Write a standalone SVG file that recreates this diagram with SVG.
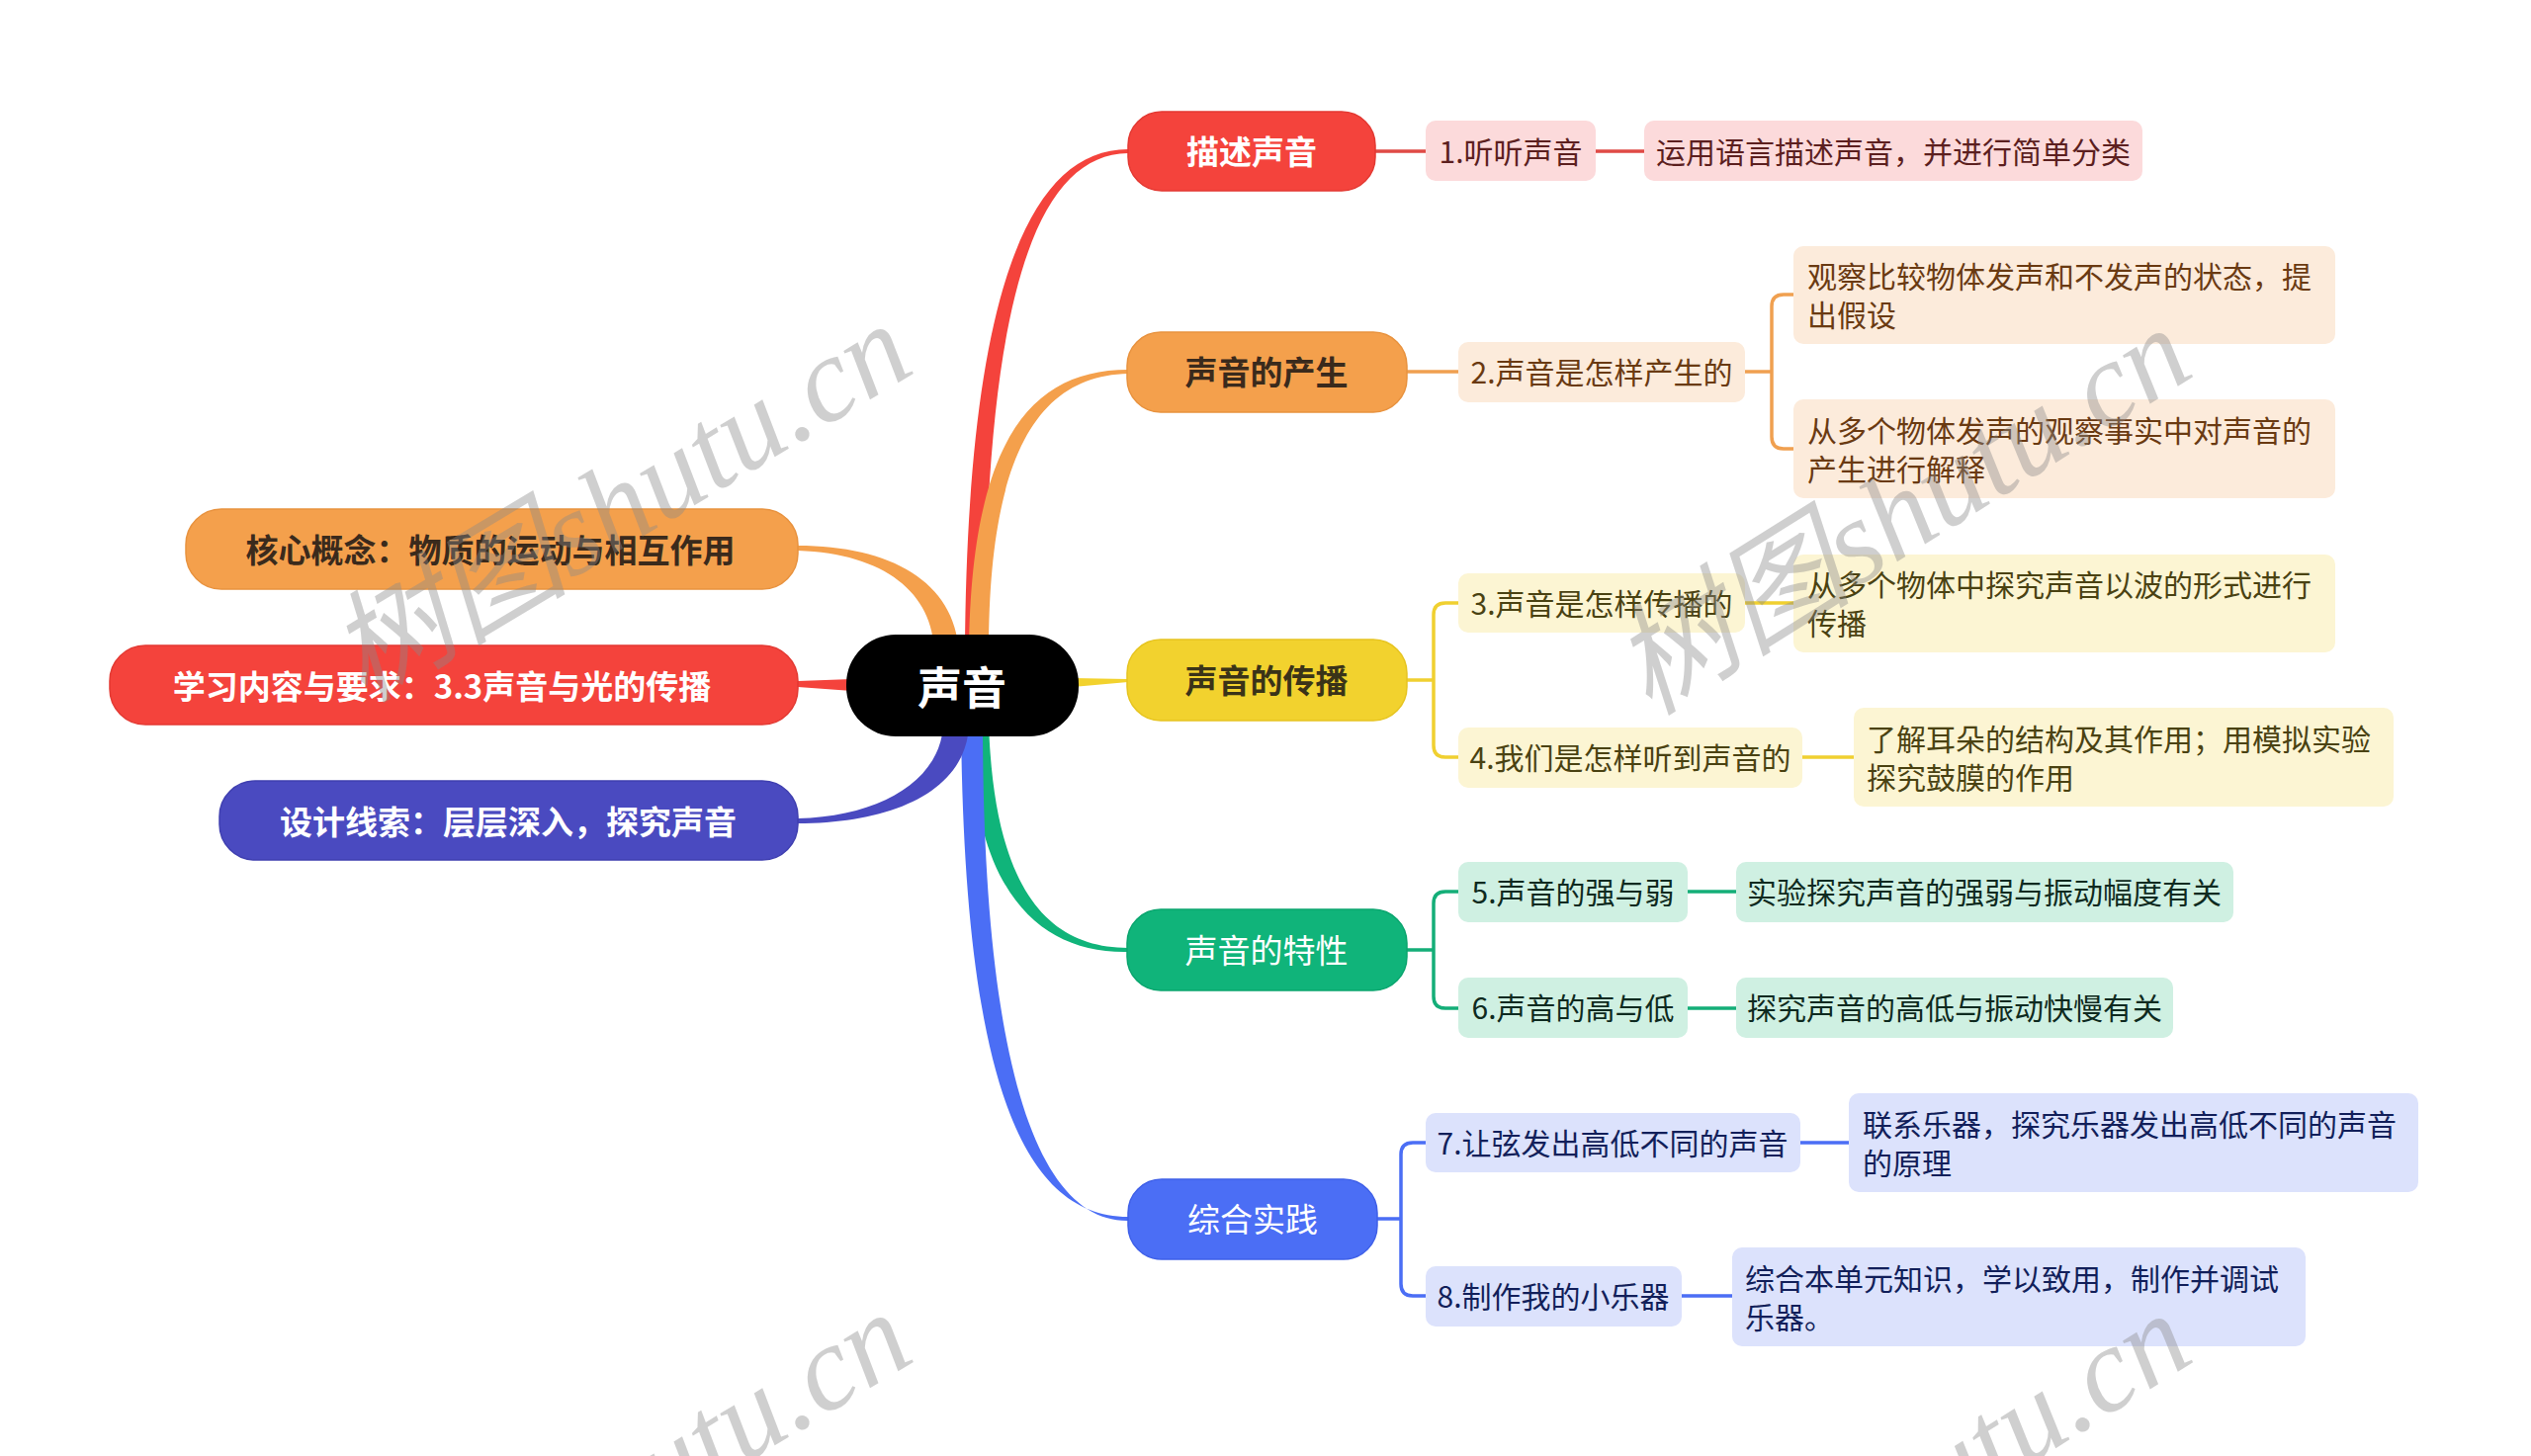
<svg xmlns="http://www.w3.org/2000/svg" width="2560" height="1473" viewBox="0 0 2560 1473">
<style>
text{font-family:"Noto Sans CJK SC","Liberation Sans",sans-serif;dominant-baseline:central}
.big{font-size:33px;text-anchor:middle}
.b{font-weight:bold}
.lf{font-size:30px}
.c{text-anchor:middle}
.ln{fill:none;stroke-width:3.5}
.wm{font-family:"Liberation Serif","Noto Sans CJK SC",serif;font-style:italic;font-size:122px;fill:#8a8a8a;opacity:0.4;dominant-baseline:alphabetic}
</style>
<rect width="2560" height="1473" fill="#fff"/>
<g id="connectors">
  <path d="M976 660 C978 330 1030 151 1141 151 L1141 155 C1040 156 996 330 996 660 Z" fill="#F4433C"/>
  <path d="M980 660 C982 450 1040 374 1141 374 L1141 378 C1050 380 1000 460 1000 660 Z" fill="#F4A04C"/>
  <path d="M1085 686 L1141 687 L1141 690 L1085 695 Z" fill="#F2D22E"/>
  <path d="M1000 730 C1005 900 1060 959 1141 959 L1141 963 C1050 965 982 900 982 730 Z" fill="#10B47A"/>
  <path d="M972 730 C975 1080 1030 1231 1141 1231 L1141 1235 C1050 1236 994 1080 994 730 Z" fill="#4B6EF5"/>
  <path d="M970 660 C966 588 900 552 807 552 L807 557 C895 560 944 600 945 660 Z" fill="#F4A04C"/>
  <path d="M862 687 L807 689 L807 695 L862 699 Z" fill="#F4433C"/>
  <path d="M980 735 C976 802 900 833 807 833 L807 828 C890 826 950 790 954 735 Z" fill="#4A4AC0"/>
  <path class="ln" stroke="#E04A45" d="M1391 153 H1442 M1614 153 H1663"/>
  <path class="ln" stroke="#F0A050" d="M1423 376 H1475 M1765 376 H1792 V310 Q1792 298 1804 298 H1814 M1792 376 V442 Q1792 454 1804 454 H1814"/>
  <path class="ln" stroke="#F0D030" d="M1423 688 H1450 V622 Q1450 610 1462 610 H1475 M1450 688 V754 Q1450 766 1462 766 H1475 M1765 610 H1814 M1823 766 H1875"/>
  <path class="ln" stroke="#14AE78" d="M1423 961 H1450 V914 Q1450 902 1462 902 H1475 M1450 961 V1008 Q1450 1020 1462 1020 H1475 M1707 902 H1756 M1707 1020 H1756"/>
  <path class="ln" stroke="#4B6EF5" d="M1393 1233 H1417 V1168 Q1417 1156 1429 1156 H1442 M1417 1233 V1299 Q1417 1311 1429 1311 H1442 M1821 1156 H1870 M1701 1311 H1752"/>
</g>

<g id="center">
  <rect x="856" y="642" width="235" height="103" rx="50" fill="#000"/>
  <text x="973" y="693" class="b c" font-size="45" fill="#fff">声音</text>
</g>

<g id="left-core">
  <rect x="188" y="515" width="619" height="81" rx="36" fill="#F4A04C" stroke="#E8923E" stroke-width="1.5"/>
  <text x="496" y="555" class="big b" fill="#3A2A1C">核心概念：物质的运动与相互作用</text>
</g>
<g id="left-learn">
  <rect x="111" y="653" width="696" height="80" rx="36" fill="#F4433C" stroke="#E33932" stroke-width="1.5"/>
  <text x="447" y="693" class="big b" fill="#fff">学习内容与要求：3.3声音与光的传播</text>
</g>
<g id="left-design">
  <rect x="222" y="790" width="585" height="80" rx="36" fill="#4A4AC0" stroke="#3F3FB0" stroke-width="1.5"/>
  <text x="514" y="830" class="big b" fill="#fff">设计线索：层层深入，探究声音</text>
</g>

<g id="b1">
  <rect x="1141" y="113" width="250" height="80" rx="34" fill="#F4433C" stroke="#E33932" stroke-width="1.5"/>
  <text x="1266" y="152" class="big b" fill="#fff">描述声音</text>
</g>
<g id="n1">
  <rect x="1442" y="122" width="172" height="61" rx="10" fill="#FCDADB"/>
  <text x="1528" y="152" class="lf c" fill="#5C1F1F">1.听听声音</text>
</g>
<g id="n1a">
  <rect x="1663" y="122" width="504" height="61" rx="10" fill="#FCDADB"/>
  <text x="1915" y="152" class="lf c" fill="#5C1F1F">运用语言描述声音，并进行简单分类</text>
</g>

<g id="b2">
  <rect x="1140" y="336" width="283" height="81" rx="34" fill="#F4A04C" stroke="#E8923E" stroke-width="1.5"/>
  <text x="1281" y="375" class="big b" fill="#3A2A1C">声音的产生</text>
</g>
<g id="n2">
  <rect x="1475" y="346" width="290" height="61" rx="10" fill="#FCEBDB"/>
  <text x="1620" y="375" class="lf c" fill="#6A3A12">2.声音是怎样产生的</text>
</g>
<g id="n2a">
  <rect x="1814" y="249" width="548" height="99" rx="10" fill="#FCEBDB"/>
  <text x="1828" y="278" class="lf" fill="#6A3A12">观察比较物体发声和不发声的状态，提</text>
  <text x="1828" y="317" class="lf" fill="#6A3A12">出假设</text>
</g>
<g id="n2b">
  <rect x="1814" y="404" width="548" height="100" rx="10" fill="#FCEBDB"/>
  <text x="1828" y="434" class="lf" fill="#6A3A12">从多个物体发声的观察事实中对声音的</text>
  <text x="1828" y="473" class="lf" fill="#6A3A12">产生进行解释</text>
</g>

<g id="b3">
  <rect x="1140" y="647" width="283" height="82" rx="34" fill="#F2D22E" stroke="#E6C420" stroke-width="1.5"/>
  <text x="1281" y="687" class="big b" fill="#3A3318">声音的传播</text>
</g>
<g id="n3">
  <rect x="1475" y="580" width="290" height="60" rx="10" fill="#FCF5D3"/>
  <text x="1620" y="609" class="lf c" fill="#4A4212">3.声音是怎样传播的</text>
</g>
<g id="n3a">
  <rect x="1814" y="561" width="548" height="99" rx="10" fill="#FCF5D3"/>
  <text x="1828" y="590" class="lf" fill="#4A4212">从多个物体中探究声音以波的形式进行</text>
  <text x="1828" y="629" class="lf" fill="#4A4212">传播</text>
</g>
<g id="n4">
  <rect x="1475" y="736" width="348" height="61" rx="10" fill="#FCF5D3"/>
  <text x="1649" y="765" class="lf c" fill="#4A4212">4.我们是怎样听到声音的</text>
</g>
<g id="n4a">
  <rect x="1875" y="716" width="546" height="100" rx="10" fill="#FCF5D3"/>
  <text x="1888" y="746" class="lf" fill="#4A4212">了解耳朵的结构及其作用；用模拟实验</text>
  <text x="1888" y="785" class="lf" fill="#4A4212">探究鼓膜的作用</text>
</g>

<g id="b4">
  <rect x="1140" y="920" width="283" height="82" rx="34" fill="#10B47A" stroke="#0AA56E" stroke-width="1.5"/>
  <text x="1281" y="960" class="big" fill="#fff">声音的特性</text>
</g>
<g id="n5">
  <rect x="1475" y="872" width="232" height="61" rx="10" fill="#CFF0E2"/>
  <text x="1591" y="901" class="lf c" fill="#0E2A20">5.声音的强与弱</text>
</g>
<g id="n5a">
  <rect x="1756" y="872" width="503" height="61" rx="10" fill="#CFF0E2"/>
  <text x="2007" y="901" class="lf c" fill="#0E2A20">实验探究声音的强弱与振动幅度有关</text>
</g>
<g id="n6">
  <rect x="1475" y="989" width="232" height="61" rx="10" fill="#CFF0E2"/>
  <text x="1591" y="1018" class="lf c" fill="#0E2A20">6.声音的高与低</text>
</g>
<g id="n6a">
  <rect x="1756" y="989" width="442" height="61" rx="10" fill="#CFF0E2"/>
  <text x="1977" y="1018" class="lf c" fill="#0E2A20">探究声音的高低与振动快慢有关</text>
</g>

<g id="b5">
  <rect x="1141" y="1193" width="252" height="81" rx="34" fill="#4B6EF5" stroke="#3F60E8" stroke-width="1.5"/>
  <text x="1267" y="1232" class="big" fill="#fff">综合实践</text>
</g>
<g id="n7">
  <rect x="1442" y="1126" width="379" height="60" rx="10" fill="#DCE2FC"/>
  <text x="1631" y="1155" class="lf c" fill="#121F5A">7.让弦发出高低不同的声音</text>
</g>
<g id="n7a">
  <rect x="1870" y="1106" width="576" height="100" rx="10" fill="#DCE2FC"/>
  <text x="1884" y="1136" class="lf" fill="#121F5A">联系乐器，探究乐器发出高低不同的声音</text>
  <text x="1884" y="1175" class="lf" fill="#121F5A">的原理</text>
</g>
<g id="n8">
  <rect x="1442" y="1281" width="259" height="61" rx="10" fill="#DCE2FC"/>
  <text x="1571" y="1310" class="lf c" fill="#121F5A">8.制作我的小乐器</text>
</g>
<g id="n8a">
  <rect x="1752" y="1262" width="580" height="100" rx="10" fill="#DCE2FC"/>
  <text x="1765" y="1292" class="lf" fill="#121F5A">综合本单元知识，学以致用，制作并调试</text>
  <text x="1765" y="1331" class="lf" fill="#121F5A">乐器。</text>
</g>

<g id="watermarks">
  <text class="wm" transform="translate(368 712) rotate(-31)">树图shutu.cn</text>
  <text class="wm" transform="translate(1668 725) rotate(-32)">树图shutu.cn</text>
  <text class="wm" transform="translate(368 1712) rotate(-31)">树图shutu.cn</text>
  <text class="wm" transform="translate(1668 1722) rotate(-32)">树图shutu.cn</text>
</g>
</svg>
